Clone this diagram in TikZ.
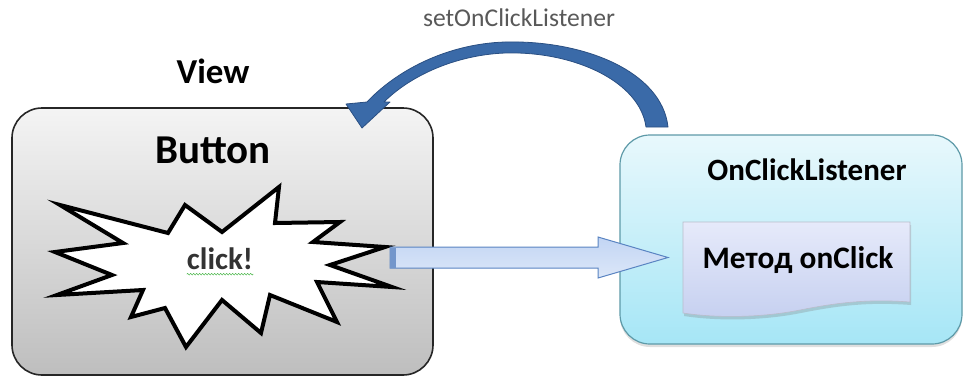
\documentclass[tikz,border=0pt]{standalone}
\usepackage{fontspec}
\setmainfont{Carlito}
\usetikzlibrary{shadows,decorations.pathmorphing,calc}
\definecolor{graytop}{HTML}{F4F4F4}
\definecolor{graybot}{HTML}{BEBEBE}
\definecolor{cyantop}{HTML}{E8F8FC}
\definecolor{cyanbot}{HTML}{A6E6F6}
\definecolor{cyanedge}{HTML}{5E9AA8}
\definecolor{methtop}{HTML}{E6EAFA}
\definecolor{methbot}{HTML}{C6D0F0}
\definecolor{flowtop}{HTML}{C2D5F4}
\definecolor{flowbot}{HTML}{DCE7F8}
\definecolor{flowedge}{HTML}{5A84C2}
\definecolor{curvefill}{HTML}{3A6AA8}
\definecolor{curveedge}{HTML}{2A4F82}
\definecolor{labelgray}{HTML}{595959}
\begin{document}
\begin{tikzpicture}[x=1pt,y=-1pt,
  viewbox/.style={draw=black!85, line width=1.6pt, rounded corners=30pt,
    top color=graytop, bottom color=graybot, minimum width=421pt, minimum height=267pt, inner sep=0pt},
  listenerbox/.style={draw=cyanedge, line width=1.2pt, rounded corners=30pt,
    top color=cyantop, bottom color=cyanbot, minimum width=342pt, minimum height=209pt, inner sep=0pt,
    drop shadow={opacity=0.25, shadow xshift=0pt, shadow yshift=-3pt}},
  burststyle/.style={draw=black, line width=4pt, fill=white, line join=miter},
  flowstyle/.style={draw=flowedge, line width=1pt, top color=flowtop, bottom color=flowbot, line join=miter},
  curvestyle/.style={fill=curvefill, draw=curveedge, line width=0.8pt, line join=round},
  methstyle/.style={top color=methtop, bottom color=methbot, draw=methbot!70!black!60, line width=0.6pt,
    drop shadow={opacity=0.3, shadow xshift=1pt, shadow yshift=-3pt}},
  title/.style={font=\bfseries, text=black, inner sep=0pt}
]
\useasboundingbox (0,0) rectangle (964,378);

% boxes
\node[viewbox] (view) at (222.5,241.5) {};
\node[listenerbox] (listener) at (791,239.5) {};

% method (document shape)
\path[methstyle] (683,222) -- (910,222) -- (910,302)
  .. controls (870,299) and (840,302) .. (800,310)
  .. controls (760,318) and (715,318) .. (683,313) -- cycle;
\node[title, font=\bfseries\fontsize{31.3}{35}\selectfont] (method) at (798,260) {Метод onClick};

% starburst
\draw[burststyle] (60,205) -- (168,233) -- (185,205) -- (222,232) -- (279,187) -- (275,223)
  -- (340,222) -- (313,242) -- (385,247) -- (330,265) -- (392,287) -- (317,282)
  -- (337,322) -- (270,295) -- (261,333) -- (222,300) -- (186,347) -- (165,308)
  -- (131,317) -- (143,290) -- (57,295) -- (112,275) -- (55,252) -- (123,243) -- cycle;
\node[font=\bfseries\fontsize{31}{35}\selectfont, text=black!80, inner sep=0pt] (click) at (220,259) {click!};
\draw[green!60!black!70, line width=0.5pt, decorate, decoration={snake, amplitude=0.8pt, segment length=3pt}]
  ([yshift=-4pt]click.south west) -- ([yshift=-4pt]click.south east);

% straight block arrow
\coordinate (flowtail) at (390,257.5);
\coordinate (flowtip) at (668,257.5);
\path[flowstyle] ($(flowtail)+(0,-10.5)$) -- ($(flowtip)+(-70,-10.5)$) -- ($(flowtip)+(-70,-20.5)$)
  -- (flowtip) -- ($(flowtip)+(-70,20.5)$) -- ($(flowtip)+(-70,10.5)$) -- ($(flowtail)+(0,10.5)$) -- cycle;
\fill[flowedge!85] ($(flowtail)+(0,-10)$) rectangle ($(flowtail)+(6,10)$);

% curved arrow
\path[curvestyle] (668,127) .. controls (662,72) and (585,40) .. (505,42)
  .. controls (445,44) and (395,72) .. (367,102) -- (346,104) -- (362,128) -- (390,102) -- (384,102)
  .. controls (410,76) and (455,55) .. (505,53)
  .. controls (575,51) and (640,82) .. (646,127) -- cycle;

% texts
\node[title, font=\bfseries\fontsize{35}{39}\selectfont] (viewlabel) at (213,71) {View};
\node[title, font=\bfseries\fontsize{41}{45}\selectfont] (button) at (213,150) {Button};
\node[title, font=\bfseries\fontsize{31}{35}\selectfont] (listenerlabel) at (807,170) {OnClickListener};
\node[font=\fontsize{25.6}{29}\selectfont, text=labelgray, inner sep=0pt] (setlabel) at (519,18) {setOnClickListener};
\end{tikzpicture}
\end{document}
